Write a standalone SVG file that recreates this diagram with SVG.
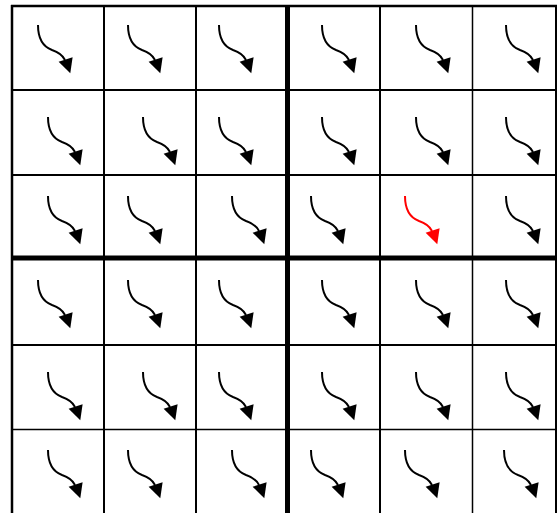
<svg xmlns="http://www.w3.org/2000/svg" xmlns:xlink="http://www.w3.org/1999/xlink" width="560" height="513" viewBox="0 0 560 513">
<style>
.g{stroke:#000;fill:none}
.arr path{fill:none;stroke:currentColor;stroke-width:2;stroke-linecap:butt}
.arr polygon{fill:currentColor;stroke:none}
</style>
<defs>
<g id="a" class="arr">
<path d="M0,0 C0,14 6,22 14,25 C20,27 24,29 27,35"/>
<polygon points="20.6,36.7 34.6,32.3 32.3,48.3"/>
</g>
</defs>
<rect width="560" height="513" fill="#fff"/>
<g id="grid" class="g">
<line x1="12" y1="5" x2="12" y2="513" stroke-width="2.5"/>
<line x1="104" y1="6" x2="104" y2="513" stroke-width="2"/>
<line x1="196" y1="6" x2="196" y2="513" stroke-width="2"/>
<line x1="287.5" y1="6" x2="287.5" y2="513" stroke-width="5"/>
<line x1="380" y1="6" x2="380" y2="513" stroke-width="2"/>
<line x1="472.5" y1="6" x2="472.5" y2="513" stroke-width="1.5"/>
<line x1="556" y1="5" x2="556" y2="513" stroke-width="2"/>
<line x1="11" y1="6" x2="557" y2="6" stroke-width="2.5"/>
<line x1="12" y1="90" x2="556" y2="90" stroke-width="2"/>
<line x1="12" y1="175" x2="556" y2="175" stroke-width="2"/>
<line x1="12" y1="258" x2="556" y2="258" stroke-width="5"/>
<line x1="12" y1="345" x2="556" y2="345" stroke-width="2"/>
<line x1="12" y1="429.5" x2="556" y2="429.5" stroke-width="1.5"/>
</g>
<g id="arrows" color="#000">
<g id="r1">
<use xlink:href="#a" x="38" y="25"/>
<use xlink:href="#a" x="128" y="25"/>
<use xlink:href="#a" x="219" y="25"/>
<use xlink:href="#a" x="322" y="25"/>
<use xlink:href="#a" x="416" y="25"/>
<use xlink:href="#a" x="506" y="25"/>
</g>
<g id="r2">
<use xlink:href="#a" x="48" y="117"/>
<use xlink:href="#a" x="143" y="117"/>
<use xlink:href="#a" x="219" y="117"/>
<use xlink:href="#a" x="322" y="117"/>
<use xlink:href="#a" x="416" y="117"/>
<use xlink:href="#a" x="506" y="117"/>
</g>
<g id="r3">
<use xlink:href="#a" x="48" y="196"/>
<use xlink:href="#a" x="128" y="196"/>
<use xlink:href="#a" x="232" y="196"/>
<use xlink:href="#a" x="311" y="196"/>
<use xlink:href="#a" x="405" y="196" color="#ff0000"/>
<use xlink:href="#a" x="506" y="196"/>
</g>
<g id="r4">
<use xlink:href="#a" x="38" y="280"/>
<use xlink:href="#a" x="128" y="280"/>
<use xlink:href="#a" x="219" y="280"/>
<use xlink:href="#a" x="322" y="280"/>
<use xlink:href="#a" x="416" y="280"/>
<use xlink:href="#a" x="506" y="280"/>
</g>
<g id="r5">
<use xlink:href="#a" x="48" y="372"/>
<use xlink:href="#a" x="143" y="372"/>
<use xlink:href="#a" x="219" y="372"/>
<use xlink:href="#a" x="322" y="372"/>
<use xlink:href="#a" x="416" y="372"/>
<use xlink:href="#a" x="506" y="372"/>
</g>
<g id="r6">
<use xlink:href="#a" x="48" y="450"/>
<use xlink:href="#a" x="128" y="450"/>
<use xlink:href="#a" x="232" y="450"/>
<use xlink:href="#a" x="311" y="450"/>
<use xlink:href="#a" x="405" y="450"/>
<use xlink:href="#a" x="504" y="450"/>
</g>
</g>
</svg>
